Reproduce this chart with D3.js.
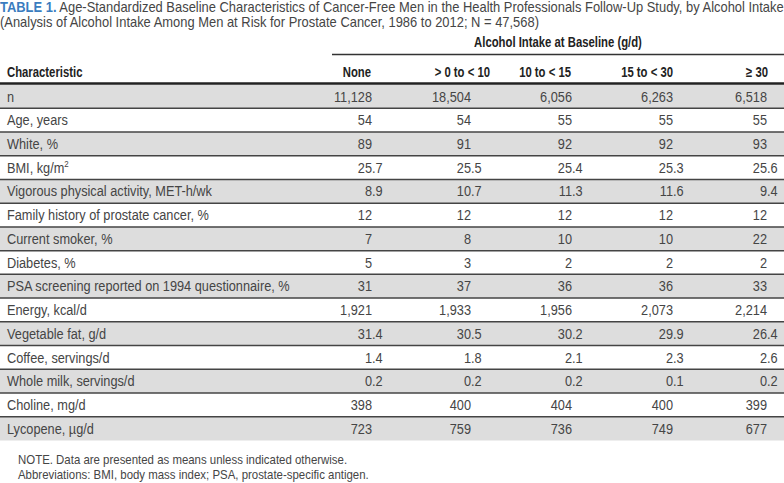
<!DOCTYPE html>
<html>
<head>
<meta charset="utf-8">
<script src="https://cdn.jsdelivr.net/npm/d3@7"></script>
<style>
  html, body { margin: 0; padding: 0; background: #fff; }
  svg { display: block; }
  text { font-family: "Liberation Sans", Arial, sans-serif; }
</style>
</head>
<body>
<svg id="chart" width="784" height="483"></svg>
<script>
// ---------- data ----------
const titleLabel = "TABLE 1.";
const titleLine1 = "Age-Standardized Baseline Characteristics of Cancer-Free Men in the Health Professionals Follow-Up Study, by Alcohol Intake";
const titleLine2 = "(Analysis of Alcohol Intake Among Men at Risk for Prostate Cancer, 1986 to 2012; N = 47,568)";
const spannerLabel = "Alcohol Intake at Baseline (g/d)";
const stubHeader = "Characteristic";
const categories = ["None", "> 0 to < 10", "10 to < 15", "15 to < 30", "≥ 30"];
const characteristics = [
  "n", "Age, years", "White, %", "BMI, kg/m²", "Vigorous physical activity, MET-h/wk",
  "Family history of prostate cancer, %", "Current smoker, %", "Diabetes, %",
  "PSA screening reported on 1994 questionnaire, %", "Energy, kcal/d", "Vegetable fat, g/d",
  "Coffee, servings/d", "Whole milk, servings/d", "Choline, mg/d", "Lycopene, µg/d"
];
const decimals = [0, 0, 0, 1, 1, 0, 0, 0, 0, 0, 1, 1, 1, 0, 0];
const noneValues   = [11128, 54, 89, 25.7,  8.9, 12,  7, 5, 31, 1921, 31.4, 1.4, 0.2, 398, 723];
const lowValues    = [18504, 54, 91, 25.5, 10.7, 12,  8, 3, 37, 1933, 30.5, 1.8, 0.2, 400, 759];
const midValues    = [ 6056, 55, 92, 25.4, 11.3, 12, 10, 2, 36, 1956, 30.2, 2.1, 0.2, 404, 736];
const highValues   = [ 6263, 55, 92, 25.3, 11.6, 12, 10, 2, 36, 2073, 29.9, 2.3, 0.1, 400, 749];
const topValues    = [ 6518, 55, 93, 25.6,  9.4, 12, 22, 2, 33, 2214, 26.4, 2.6, 0.2, 399, 677];
const footnotes = [
  "NOTE. Data are presented as means unless indicated otherwise.",
  "Abbreviations: BMI, body mass index; PSA, prostate-specific antigen."
];

const series = [noneValues, lowValues, midValues, highValues, topValues];

// ---------- layout ----------
const W = 784;
const svg = d3.select("#chart");
const textColor = "#454545";
const headColor = "#222";
const blue = "#3a7cbf";
const stripe = "#dddddd";
const bodySize = 14.5;
const SX = 0.88;    // horizontal condensation for regular text
const SXB = 0.78;   // horizontal condensation for bold text

// scales
const y = d3.scaleBand().domain(d3.range(characteristics.length)).range([84.5, 440.5]);
const xHeader = d3.scaleOrdinal().domain(categories).range([371, 490, 571, 673, 768]);
const xValue  = d3.scaleOrdinal().domain(categories).range([372, 471, 572, 673, 767]);

// stripes
svg.selectAll("rect.stripe").data(d3.range(characteristics.length).filter(i => i % 2 === 0)).join("rect")
  .attr("class", "stripe").attr("x", 0).attr("width", W)
  .attr("y", d => y(d)).attr("height", y.bandwidth()).attr("fill", stripe);

// row separators
svg.selectAll("line.sep").data(d3.range(characteristics.length - 1)).join("line")
  .attr("class", "sep").attr("x1", 0).attr("x2", W)
  .attr("y1", d => y(d) + y.bandwidth()).attr("y2", d => y(d) + y.bandwidth())
  .attr("stroke", "#444").attr("stroke-width", 1.5);

// header rule + spanner rule
svg.append("line").attr("x1", 0).attr("x2", W).attr("y1", 83.5).attr("y2", 83.5)
  .attr("stroke", "#222").attr("stroke-width", 2.5);
svg.append("line").attr("x1", 332).attr("x2", W).attr("y1", 54.5).attr("y2", 54.5)
  .attr("stroke", "#333").attr("stroke-width", 1.5);

// condensed text layers
const tg = svg.append("g").attr("transform", `scale(${SX},1)`);
const bg = svg.append("g").attr("transform", `scale(${SXB},1)`);
const X = v => v / SX;
const XB = v => v / SXB;

// title (fit first line to page width)
const t1 = tg.append("text").attr("x", 0).attr("y", 12).attr("font-size", 14).attr("fill", textColor);
t1.append("tspan").attr("font-weight", "bold").attr("fill", blue).text(titleLabel);
t1.append("tspan").text(" " + titleLine1);
const t2 = tg.append("text").attr("x", 0).attr("y", 27.5).attr("font-size", 14).attr("fill", textColor).text(titleLine2);
const titleFit = 783 / (t1.node().getComputedTextLength() * SX);
[t1, t2].forEach(t => t.attr("transform", `scale(${titleFit},1)`));

// spanner
bg.append("text").attr("x", XB(558)).attr("y", 47.5).attr("text-anchor", "middle")
  .attr("font-size", bodySize).attr("font-weight", "bold").attr("fill", headColor).text(spannerLabel);

// column headers
bg.append("text").attr("x", XB(7)).attr("y", 77.5).attr("font-size", bodySize).attr("font-weight", "bold")
  .attr("fill", headColor).text(stubHeader);
bg.selectAll("text.colhead").data(categories).join("text").attr("class", "colhead")
  .attr("x", d => XB(xHeader(d))).attr("y", 77.5).attr("text-anchor", "end")
  .attr("font-size", bodySize).attr("font-weight", "bold").attr("fill", headColor).text(d => d);

// row labels
const labels = tg.selectAll("text.rowlab").data(characteristics).join("text").attr("class", "rowlab")
  .attr("x", X(7)).attr("y", (d, i) => y(i) + y.bandwidth() / 2 + 5.2)
  .attr("font-size", bodySize).attr("fill", textColor);
labels.each(function(d) {
  const el = d3.select(this);
  if (d.endsWith("m²")) {
    el.append("tspan").text(d.slice(0, -1));
    el.append("tspan").attr("font-size", 9).attr("dy", -6).text("2");
  } else {
    el.text(d);
  }
});

// values (decimal-aligned)
const fmtInt = d3.format(",");
const cells = [];
series.forEach((vals, c) => vals.forEach((v, r) => {
  const s = decimals[r] ? d3.format(`.${decimals[r]}f`)(v) : fmtInt(v);
  const [ip, fp] = s.split(".");
  cells.push({ cat: categories[c], row: r, ip, fp });
}));
tg.selectAll("text.vint").data(cells).join("text").attr("class", "vint")
  .attr("x", d => X(xValue(d.cat))).attr("y", d => y(d.row) + y.bandwidth() / 2 + 5.2)
  .attr("text-anchor", "end").attr("font-size", bodySize).attr("fill", textColor).text(d => d.ip);
tg.selectAll("text.vfrac").data(cells.filter(d => d.fp !== undefined)).join("text").attr("class", "vfrac")
  .attr("x", d => X(xValue(d.cat))).attr("y", d => y(d.row) + y.bandwidth() / 2 + 5.2)
  .attr("text-anchor", "start").attr("font-size", bodySize).attr("fill", textColor).text(d => "." + d.fp);

// footnotes
tg.selectAll("text.foot").data(footnotes).join("text").attr("class", "foot")
  .attr("x", X(18)).attr("y", (d, i) => 464 + i * 15)
  .attr("font-size", 13).attr("fill", textColor).text(d => d);
</script>
</body>
</html>
